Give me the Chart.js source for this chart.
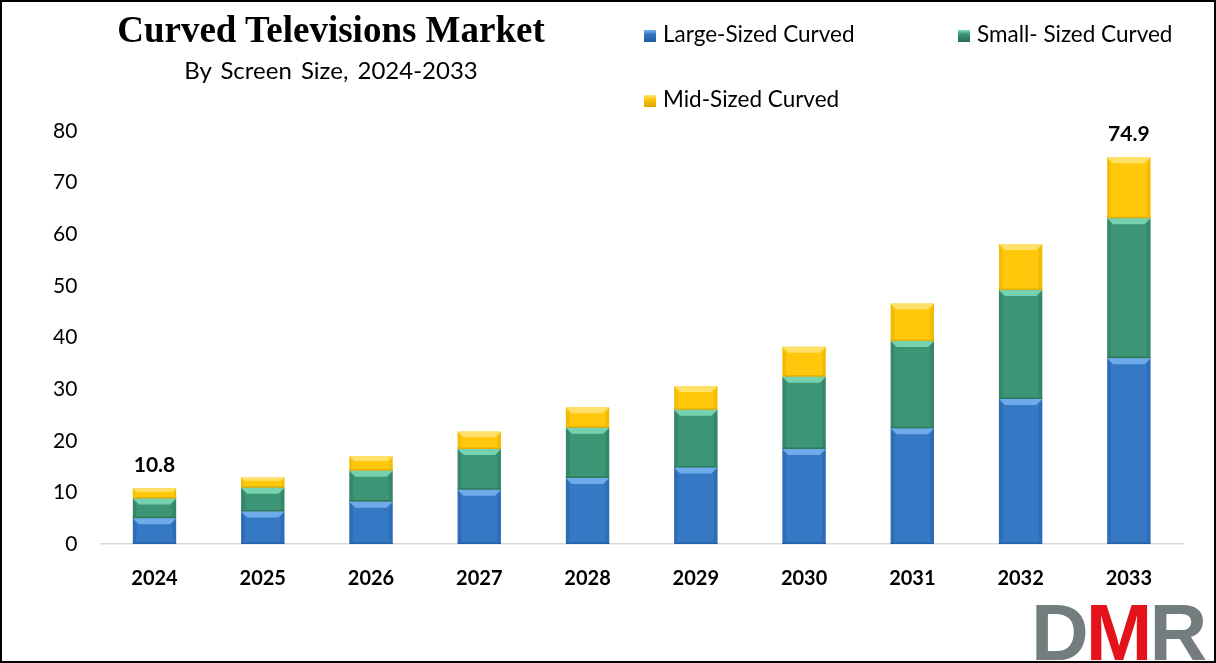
<!DOCTYPE html>
<html>
<head>
<meta charset="utf-8">
<script src="https://cdn.jsdelivr.net/npm/chart.js@4.4.1/dist/chart.umd.min.js"></script>
<style>
  html, body { margin: 0; padding: 0; background: #fff; }
  #wrap { position: relative; width: 1216px; height: 663px; overflow: hidden; }
  #frame { position: absolute; left: 0; top: 0; width: 1216px; height: 663px; box-sizing: border-box; border: 2px solid #000; pointer-events: none; z-index: 5; }
  canvas { position: absolute; left: 0; top: 0; }
  .txt { position: absolute; white-space: nowrap; color: #000; }
  #title { left: 331px; top: 8px; transform: translateX(-50%); font-family: "Liberation Serif", serif; font-weight: bold; font-size: 37px; }
  #subtitle { left: 331px; top: 55px; transform: translateX(-50%); font-family: Lato, "Open Sans", sans-serif; font-size: 24px; word-spacing: 3px; }
  .leg { position: absolute; font-family: Lato, "Open Sans", sans-serif; font-size: 22.5px; white-space: nowrap; }
  .sw { position: absolute; width: 12px; height: 12px; }
  #logo { position: absolute; left: 1031px; top: 593px; font-family: "Liberation Sans", Arial, sans-serif; font-weight: bold; font-size: 80px; letter-spacing: -3px; line-height: 80px; }
</style>
</head>
<body>
<div id="wrap">
  <canvas id="c" width="1216" height="663"></canvas>
  <div id="title" class="txt">Curved Televisions Market</div>
  <div id="subtitle" class="txt">By Screen Size, 2024-2033</div>
  <div id="legend"></div>
  <div id="logo"><span style="color:#737d7e">D</span><span style="color:#e4131b">M</span><span style="color:#737d7e">R</span></div>
  <div id="frame"></div>
</div>
<script>
// ---- Data ----
const years = ['2024','2025','2026','2027','2028','2029','2030','2031','2032','2033'];
const largeSized = [5.0, 6.3, 8.2, 10.5, 12.8, 14.8, 18.4, 22.4, 28.1, 36.0];
const smallSized = [3.8, 4.6, 6.0, 7.9, 9.7, 11.2, 14.0, 16.9, 21.1, 27.1];
const midSized   = [2.0, 2.0, 2.8, 3.4, 4.0, 4.6, 5.8, 7.3, 8.9, 11.8];
const seriesNames = ['Large-Sized Curved', 'Small- Sized Curved', 'Mid-Sized Curved'];
const totalLabels = ['10.8', '', '', '', '', '', '', '', '', '74.9'];
const yTicks = [0, 10, 20, 30, 40, 50, 60, 70, 80];

const colors = ['#3578c3', '#3c9574', '#ffc80a'];
const lightColors = ['#78b4ee', '#7fdcb8', '#ffe57a'];
const darkColors = ['#215a9a', '#276e52', '#d9a300'];

// ---- Legend (HTML) ----
const legendPos = [
  { x: 644, y: 23 },
  { x: 958, y: 23 },
  { x: 644, y: 88 }
];
const legendEl = document.getElementById('legend');
seriesNames.forEach((n, i) => {
  const sw = document.createElement('div');
  sw.className = 'sw';
  sw.style.left = legendPos[i].x + 'px';
  sw.style.top = (legendPos[i].y + 7) + 'px';
  sw.style.background = 'linear-gradient(180deg,' + lightColors[i] + ' 0%,' + colors[i] + ' 35%,' + darkColors[i] + ' 100%)';
  legendEl.appendChild(sw);
  const t = document.createElement('div');
  t.className = 'leg';
  t.style.left = (legendPos[i].x + 19) + 'px';
  t.style.top = (legendPos[i].y - 3) + 'px';
  t.textContent = n;
  legendEl.appendChild(t);
});

// ---- Bevel plugin ----
const bevelPlugin = {
  id: 'bevel',
  afterDatasetsDraw(chart) {
    const ctx = chart.ctx;
    chart.data.datasets.forEach((ds, di) => {
      const meta = chart.getDatasetMeta(di);
      meta.data.forEach((bar) => {
        const p = bar.getProps(['x', 'y', 'base', 'width'], true);
        const l = p.x - p.width / 2, r = p.x + p.width / 2;
        const top = Math.min(p.y, p.base), bot = Math.max(p.y, p.base);
        const h = bot - top;
        const b = Math.min(6, h / 3);
        ctx.save();
        ctx.fillStyle = lightColors[di];
        ctx.globalAlpha = 0.85;
        ctx.beginPath();
        ctx.moveTo(l, top); ctx.lineTo(r, top); ctx.lineTo(r - b, top + b); ctx.lineTo(l + b, top + b); ctx.closePath();
        ctx.fill();
        ctx.globalAlpha = 0.35;
        ctx.fillStyle = darkColors[di];
        ctx.beginPath();
        ctx.moveTo(l, top); ctx.lineTo(l + b * 0.6, top + b); ctx.lineTo(l + b * 0.6, bot - b * 0.4); ctx.lineTo(l, bot); ctx.closePath();
        ctx.fill();
        ctx.beginPath();
        ctx.moveTo(r, top); ctx.lineTo(r - b * 0.6, top + b); ctx.lineTo(r - b * 0.6, bot - b * 0.4); ctx.lineTo(r, bot); ctx.closePath();
        ctx.fill();
        ctx.globalAlpha = 0.7;
        ctx.fillRect(l, bot - 1.5, p.width, 1.5);
        ctx.restore();
      });
    });
    const lastMeta = chart.getDatasetMeta(chart.data.datasets.length - 1);
    ctx.save();
    ctx.font = 'bold 21px Lato, "Open Sans", sans-serif';
    ctx.fillStyle = '#000';
    ctx.textAlign = 'center';
    ctx.textBaseline = 'middle';
    lastMeta.data.forEach((bar, i) => {
      if (totalLabels[i]) ctx.fillText(totalLabels[i], bar.x, bar.y - 23);
    });
    ctx.restore();
  }
};

const datasets = [largeSized, smallSized, midSized].map((d, i) => ({
  label: seriesNames[i],
  data: d,
  backgroundColor: colors[i],
  borderWidth: 0,
  barPercentage: 0.4,
  categoryPercentage: 1.0,
  stack: 's'
}));

new Chart(document.getElementById('c'), {
  type: 'bar',
  data: { labels: years, datasets },
  options: {
    responsive: false,
    animation: false,
    events: [],
    layout: { padding: { left: 30, right: 33, top: 131, bottom: 0 } },
    plugins: { legend: { display: false }, tooltip: { enabled: false }, title: { display: false } },
    scales: {
      x: {
        stacked: true,
        grid: { display: false, drawTicks: false },
        border: { display: true, color: '#d9d9d9', width: 1.5 },
        ticks: { color: '#000', font: { family: 'Lato, "Open Sans", sans-serif', size: 20, weight: 'bold' }, padding: 23 },
        afterFit(s) { s.height = 119; }
      },
      y: {
        stacked: true,
        min: 0, max: 80,
        afterBuildTicks(s) { s.ticks = yTicks.map(v => ({ value: v })); },
        grid: { display: false, drawTicks: false },
        border: { display: false },
        ticks: { color: '#000', font: { family: 'Lato, "Open Sans", sans-serif', size: 21 }, padding: 23 }
      }
    }
  },
  plugins: [bevelPlugin]
});
</script>
</body>
</html>
